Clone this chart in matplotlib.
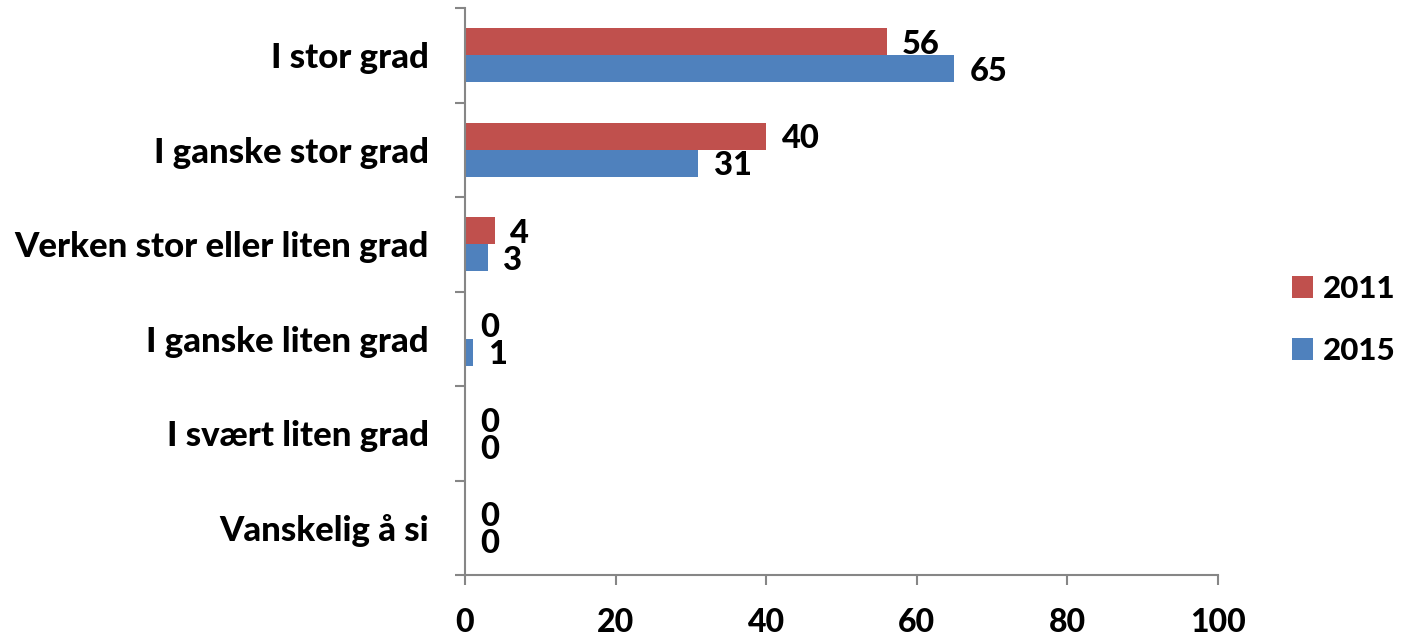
import matplotlib
matplotlib.use("Agg")
import matplotlib.pyplot as plt
import numpy as np
from matplotlib.patches import Patch

categories = ["I stor grad", "I ganske stor grad", "Verken stor eller liten grad",
              "I ganske liten grad", "I svært liten grad", "Vanskelig å si"]
series_names = ["2011", "2015"]
values_2011 = [56, 40, 4, 0, 0, 0]
values_2015 = [65, 31, 3, 1, 0, 0]
x_ticks = [0, 20, 40, 60, 80, 100]

RED = "#C0504D"
BLUE = "#4F81BD"
GRID = "#868686"
FONT = ["Lato", "DejaVu Sans"]
W = "black"

plt.rcParams["font.family"] = FONT
plt.rcParams["font.weight"] = W

fig = plt.figure(figsize=(14.03, 6.38), dpi=100)
ax = fig.add_axes([465 / 1403, 1 - 575 / 638, (1218 - 465) / 1403, (575 - 8) / 638])

n = len(categories)
y = np.arange(n)
h = 0.285
b1 = ax.barh(y - h / 2, values_2011, height=h, color=RED, label=series_names[0])
b2 = ax.barh(y + h / 2, values_2015, height=h, color=BLUE, label=series_names[1])

for bars in (b1, b2):
    labels = ax.bar_label(bars, padding=11, fontsize=23.5, fontweight=W, color="black")
    for t in labels:
        t.set_verticalalignment("center_baseline")

ax.set_ylim(n - 0.5, -0.5)
ax.set_xlim(0, 100)
ax.set_xticks(x_ticks)
ax.set_xticklabels([str(t) for t in x_ticks], fontsize=23, fontweight=W)
ax.set_yticks(np.arange(-0.5, n, 1.0), minor=False)
ax.set_yticklabels([""] * (n + 1))
ax.set_yticks(y, minor=True)
ax.set_yticklabels(categories, minor=True, fontsize=25, fontweight=W)
ax.tick_params(axis="y", which="minor", length=0, pad=26)
ax.tick_params(axis="y", which="major", length=7, width=1.5, color=GRID, direction="out")
ax.tick_params(axis="x", length=7, width=1.5, color=GRID, direction="out", pad=17)

for s in ("top", "right"):
    ax.spines[s].set_visible(False)
for s in ("left", "bottom"):
    ax.spines[s].set_color(GRID)
    ax.spines[s].set_linewidth(1.5)

handles = [Patch(facecolor=RED), Patch(facecolor=BLUE)]
fig.legend(handles, series_names, loc="center left",
           bbox_to_anchor=(1292 / 1403, 1 - 320 / 638), frameon=False, borderpad=0,
           borderaxespad=0,
           prop={"family": FONT, "size": 22.5, "weight": W},
           handlelength=0.68, handleheight=0.68, handletextpad=0.3, labelspacing=1.1)

fig.savefig("out.png", dpi=100)
